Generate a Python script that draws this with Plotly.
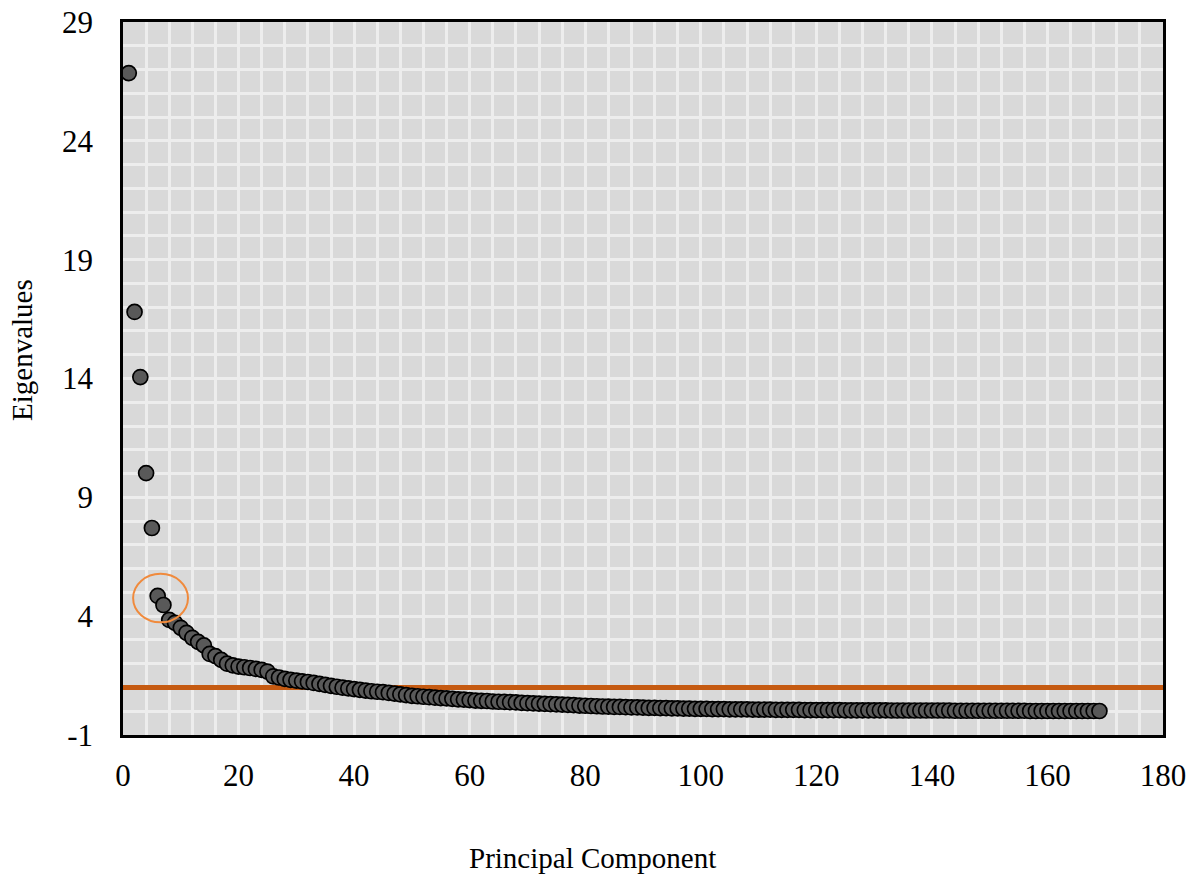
import plotly.graph_objects as go

# ---- data ----
eigenvalues = [
    26.85, 16.80, 14.06, 10.02, 7.71, 4.85, 4.47, 3.84, 3.72, 3.51,
    3.30, 3.09, 2.92, 2.77, 2.41, 2.32, 2.16, 2.00, 1.93, 1.88,
    1.85, 1.82, 1.78, 1.74, 1.67, 1.47, 1.42, 1.36, 1.32, 1.29,
    1.26, 1.23, 1.19, 1.15, 1.11, 1.07, 1.03, 0.99, 0.96, 0.93,
    0.90, 0.87, 0.84, 0.82, 0.80, 0.77, 0.74, 0.71, 0.68, 0.65,
    0.63, 0.61, 0.59, 0.57, 0.55, 0.54, 0.52, 0.50, 0.49, 0.47,
    0.45, 0.44, 0.43, 0.41, 0.40, 0.39, 0.38, 0.37, 0.35, 0.34,
    0.33, 0.32, 0.31, 0.30, 0.29, 0.28, 0.27, 0.26, 0.24, 0.23,
    0.22, 0.21, 0.20, 0.19, 0.18, 0.18, 0.17, 0.16, 0.16, 0.15,
    0.14, 0.14, 0.13, 0.13, 0.12, 0.12, 0.11, 0.11, 0.10, 0.10,
    0.10, 0.09, 0.09, 0.09, 0.08, 0.08, 0.08, 0.08, 0.07, 0.07,
    0.07, 0.07, 0.06, 0.06, 0.06, 0.06, 0.06, 0.05, 0.05, 0.05,
    0.05, 0.05, 0.05, 0.05, 0.04, 0.04, 0.04, 0.04, 0.04, 0.04,
    0.04, 0.04, 0.03, 0.03, 0.03, 0.03, 0.03, 0.03, 0.03, 0.03,
    0.03, 0.03, 0.03, 0.02, 0.02, 0.02, 0.02, 0.02, 0.02, 0.02,
    0.02, 0.02, 0.02, 0.02, 0.02, 0.02, 0.01, 0.01, 0.01, 0.01,
    0.01, 0.01, 0.01, 0.01, 0.01, 0.01, 0.01, 0.01, 0.01,
]
components = list(range(1, len(eigenvalues) + 1))

kaiser_threshold = 1.0
x_range = [0, 180]
y_range = [-1, 29]
x_tick_vals = [0, 20, 40, 60, 80, 100, 120, 140, 160, 180]
x_tick_text = ["0", "20", "40", "60", "80", "100", "120", "140", "160", "180"]
y_tick_vals = [-1, 4, 9, 14, 19, 24, 29]
y_tick_text = ["-1", "4", "9", "14", "19", "24", "29"]
highlight_components = [6, 7]

FONT = "Liberation Serif, Times New Roman, serif"
GRID = "#ededed"

fig = go.Figure()

# Kaiser line (under the markers)
fig.add_trace(go.Scatter(
    x=x_range, y=[kaiser_threshold, kaiser_threshold],
    mode="lines", line=dict(color="#c55a11", width=5),
    showlegend=False, hoverinfo="skip",
))

# eigenvalue markers
fig.add_trace(go.Scatter(
    x=components, y=eigenvalues, mode="markers",
    marker=dict(size=15, color="#595959", line=dict(color="#000000", width=1.7)),
    showlegend=False,
))

# highlight ellipse around the chosen components
hx = [components[i - 1] for i in highlight_components]
hy = [eigenvalues[i - 1] for i in highlight_components]
cx = sum(hx) / len(hx)
cy = sum(hy) / len(hy)
fig.add_shape(type="circle", xref="x", yref="y",
              x0=cx - 4.75, x1=cx + 4.75, y0=cy - 0.92, y1=cy + 1.12,
              line=dict(color="#f08a3c", width=2), fillcolor="rgba(0,0,0,0)")

axis_common = dict(
    showline=True, linecolor="black", linewidth=2.5, mirror=True,
    showgrid=True, gridcolor=GRID, gridwidth=2.5,
    zeroline=False, ticks="", ticklabeloverflow="allow", automargin=False,
    tickfont=dict(family=FONT, size=31, color="black"),
)

fig.update_xaxes(range=x_range, tickvals=x_tick_vals, ticktext=x_tick_text,
                 minor=dict(dtick=4, tick0=0, showgrid=True, gridcolor=GRID, gridwidth=2.5),
                 ticklabelstandoff=11, **axis_common)
fig.update_yaxes(range=y_range, tickvals=y_tick_vals, ticktext=y_tick_text,
                 minor=dict(dtick=1, tick0=-1, showgrid=True, gridcolor=GRID, gridwidth=2.5),
                 ticklabelstandoff=21, **axis_common)

fig.add_annotation(text="Principal Component", xref="paper", yref="paper",
                   x=0.451, y=-0.1725, showarrow=False, xanchor="center", yanchor="middle",
                   font=dict(family=FONT, size=29, color="black"))
fig.add_annotation(text="Eigenvalues", xref="paper", yref="paper",
                   x=-0.0971, y=0.54, showarrow=False, textangle=-90,
                   xanchor="center", yanchor="middle",
                   font=dict(family=FONT, size=29, color="black"))

fig.update_layout(
    width=1196, height=876,
    margin=dict(l=123, r=33, t=22, b=141, autoexpand=False),
    plot_bgcolor="#d9d9d9", paper_bgcolor="white",
    font=dict(family=FONT, color="black"),
)

fig.write_html("out.html", config={"displayModeBar": False},
               post_script="document.body.style.margin='0';")
